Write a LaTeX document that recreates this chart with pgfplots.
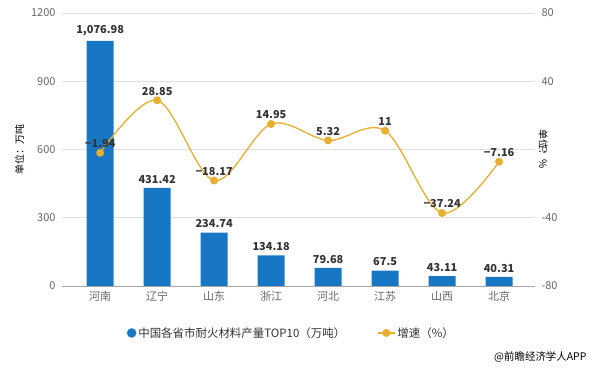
\documentclass[border=0pt]{standalone}
\usepackage{fontspec}
\setmainfont{Noto Sans CJK SC}
\usepackage{pgfplots}
\usepackage{pgfplotstable}
\pgfplotsset{compat=1.18}
\definecolor{barblue}{HTML}{1877C4}
\definecolor{linegold}{HTML}{E8AE2E}
\definecolor{ticktxt}{HTML}{666666}
\definecolor{lbltxt}{HTML}{333333}
\pgfplotstableread{
x y lab
0 1076.98 1,076.98
1 431.42 431.42
2 234.74 234.74
3 134.18 134.18
4 79.68 79.68
5 67.5 67.5
6 43.11 43.11
7 40.31 40.31
}\bardata
\pgfplotstableread{
x y lab
0 -1.94 −1.94
1 28.85 28.85
2 -18.17 −18.17
3 14.95 14.95
4 5.32 5.32
5 11 11
6 -37.24 −37.24
7 -7.16 −7.16
}\linedata
\begin{document}
\begin{tikzpicture}
\path[use as bounding box] (0,0) rectangle (593bp,371bp);
\begin{axis}[
  at={(62bp,85bp)}, anchor=south west,
  scale only axis, width=473bp, height=273bp,
  xmin=-0.67, xmax=7.63, ymin=0, ymax=1200,
  ytick={0,300,...,1200},
  xtick={0,...,7},
  xticklabels={河南,辽宁,山东,浙江,河北,江苏,山西,北京},
  axis x line*=bottom, axis y line*=left,
  y axis line style={draw=none},
  x axis line style={draw=gray!70},
  major tick length=0pt,
  ymajorgrids, grid style={draw=gray!25, line width=0.6pt},
  tick label style={font=\fontsize{11}{13}\selectfont, text=ticktxt},
  /pgf/number format/assume math mode=true,
  /pgf/number format/1000 sep={},
  xticklabel style={yshift=-2bp},
  yticklabel style={xshift=-3bp},
  ylabel={单位：万吨},
  ylabel style={font=\fontsize{11.5}{13}\selectfont, text=ticktxt},
  every axis y label/.style={at={(ticklabel cs:0.5)}, rotate=90, anchor=south, xshift=0bp},
  clip=false,
]
\addplot[ybar, bar width=27bp, fill=barblue, draw=none,
  point meta=explicit symbolic,
  nodes near coords,
  every node near coord/.append style={font=\bfseries\fontsize{11}{13}\selectfont, text=lbltxt, yshift=1bp}]
  table[x=x, y=y, meta=lab] {\bardata};
\end{axis}
\begin{axis}[
  at={(62bp,85bp)}, anchor=south west,
  scale only axis, width=473bp, height=273bp,
  xmin=-0.67, xmax=7.63, ymin=-80, ymax=80,
  ytick={-80,-40,...,80},
  axis y line*=right, axis x line=none,
  y axis line style={draw=none},
  major tick length=0pt,
  tick label style={font=\fontsize{11}{13}\selectfont, text=ticktxt},
  /pgf/number format/assume math mode=true,
  yticklabel style={xshift=3bp},
  ylabel={单位：\%},
  ylabel style={font=\fontsize{11.5}{13}\selectfont, text=ticktxt},
  every axis y label/.style={at={(ticklabel* cs:0.5)}, rotate=-90, anchor=south, xshift=0bp},
  clip=false,
  legend style={at={(0.485,-0.172)}, anchor=center, draw=none, fill=none,
    legend columns=2, font=\fontsize{11.5}{13}\selectfont, text=lbltxt,
    /tikz/every even column/.append style={column sep=30bp}},
  legend cell align=left,
]
\addlegendimage{legend image code/.code={\fill[barblue] (0.25cm,0) circle (4.5bp);}}
\addlegendentry{中国各省市耐火材料产量TOP10（万吨）}
\addplot[color=linegold, line width=1.3pt, smooth, tension=0.55,
  mark=*, mark size=3.3bp, mark options={fill=linegold, draw=linegold},
  point meta=explicit symbolic,
  nodes near coords,
  every node near coord/.append style={font=\bfseries\fontsize{11}{13}\selectfont, text=lbltxt, yshift=1bp},
  legend image code/.code={\draw[linegold, line width=1.3pt] (0,0)--(0.6cm,0); \fill[linegold] (0.3cm,0) circle (3.3bp);}]
  table[x=x, y=y, meta=lab] {\linedata};
\addlegendentry{增速（\%）}
\end{axis}
\node[anchor=east, font=\fontsize{10.5}{12}\selectfont, text=black] at (590bp,14bp) {@前瞻经济学人APP};
\end{tikzpicture}
\end{document}
